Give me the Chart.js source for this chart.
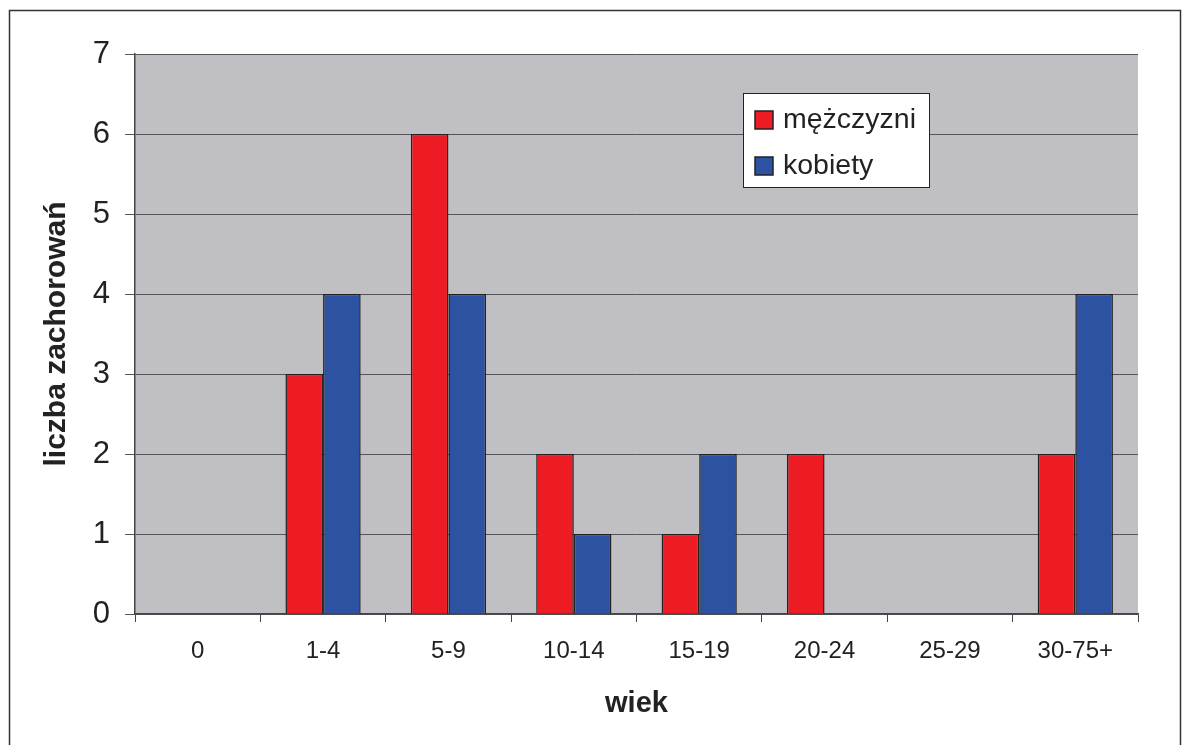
<!DOCTYPE html>
<html>
<head>
<meta charset="utf-8">
<script src="https://cdn.jsdelivr.net/npm/chart.js@4.4.1/dist/chart.umd.min.js"></script>
<style>
    html, body { margin: 0; padding: 0; background: #fff; }
    canvas { display: block; }
</style>
</head>
<body>
<canvas id="chart" width="1184" height="745"></canvas>
<script>
// Data

const categories = ["0", "1-4", "5-9", "10-14", "15-19", "20-24", "25-29", "30-75+"];
const men = [0, 3, 6, 2, 1, 2, 0, 2];
const women = [0, 4, 4, 1, 2, 0, 0, 4];
const seriesNames = ["mężczyzni", "kobiety"];
const yTicks = [0, 1, 2, 3, 4, 5, 6, 7];

const FONT = "'Liberation Sans', Arial, sans-serif";

// Plugins

const plotBackground = {
    id: "plotBackground",
    beforeDraw(chart) {
        const { ctx, chartArea: a } = chart;
        ctx.save();
        ctx.fillStyle = "#C0C0C4";
        ctx.fillRect(a.left, a.top, a.right - a.left, a.bottom - a.top);
        ctx.restore();
    },
    afterDraw(chart) {
        const { ctx } = chart;
        ctx.save();
        ctx.strokeStyle = "#333";
        ctx.lineWidth = 1.5;
        ctx.strokeRect(9.5, 10.5, 1171, 800);
        ctx.restore();
    },
};

const boxLegend = {
    id: "boxLegend",
    afterDatasetsDraw(chart) {
        const { ctx } = chart;
        const x = 743, y = 93, w = 186, h = 94;
        ctx.save();
        ctx.fillStyle = "#fff";
        ctx.fillRect(x, y, w, h);
        ctx.strokeStyle = "#222";
        ctx.lineWidth = 1;
        ctx.strokeRect(x + 0.5, y + 0.5, w, h);
        ctx.font = "28.5px " + FONT;
        ctx.textBaseline = "middle";
        chart.data.datasets.forEach((ds, i) => {
            const cy = 120 + i * 46;
            ctx.fillStyle = ds.backgroundColor;
            ctx.fillRect(755, cy - 9, 18, 18);
            ctx.strokeStyle = "#222";
            ctx.lineWidth = 1.5;
            ctx.strokeRect(755, cy - 9, 18, 18);
            ctx.fillStyle = "#222";
            ctx.fillText(ds.label, 783, cy);
        });
        ctx.restore();
    },
};

// Chart

const ctx = document.getElementById("chart");

const chart = new Chart(ctx, {
    type: "bar",
    data: {
        labels: categories,
        datasets: [
            {
                label: seriesNames[0],
                data: men,
                backgroundColor: "#ED1C24",
                borderColor: "#222",
                borderWidth: 1.5,
                barPercentage: 1,
                categoryPercentage: 0.6,
            },
            {
                label: seriesNames[1],
                data: women,
                backgroundColor: "#2E52A2",
                borderColor: "#222",
                borderWidth: 1.5,
                barPercentage: 1,
                categoryPercentage: 0.6,
            },
        ],
    },
    options: {
        responsive: false,
        animation: false,
        layout: {
            padding: { left: 0, top: 54, right: 46, bottom: 0 },
        },
        plugins: {
            legend: { display: false },
            tooltip: { enabled: false },
        },
        scales: {
            x: {
                grid: {
                    offset: true,
                    drawOnChartArea: false,
                    drawTicks: true,
                    tickLength: 8,
                    color: "#444",
                },
                border: { display: true, color: "#444", width: 1.5 },
                ticks: {
                    color: "#222",
                    padding: 15,
                    font: { family: FONT, size: 24 },
                    maxRotation: 0,
                },
                title: {
                    display: true,
                    text: "wiek",
                    color: "#222",
                    font: { family: FONT, size: 29, weight: "bold" },
                    padding: { top: 0, bottom: 24 },
                },
                afterFit(scale) {
                    scale.height = 131;
                },
            },
            y: {
                min: 0,
                max: 7,
                afterBuildTicks(scale) {
                    scale.ticks = yTicks.map((v) => ({ value: v }));
                },
                grid: {
                    color: "#555",
                    lineWidth: 1,
                    tickLength: 10,
                },
                border: { display: true, color: "#444", width: 1.5 },
                ticks: {
                    color: "#222",
                    padding: 15,
                    font: { family: FONT, size: 31 },
                },
                title: {
                    display: true,
                    text: "liczba zachorowań",
                    color: "#222",
                    font: { family: FONT, size: 30, weight: "bold" },
                    padding: { top: 39, bottom: 0 },
                },
                afterFit(scale) {
                    scale.width = 135;
                },
            },
        },
    },
    plugins: [plotBackground, boxLegend],
});
</script>
</body>
</html>
